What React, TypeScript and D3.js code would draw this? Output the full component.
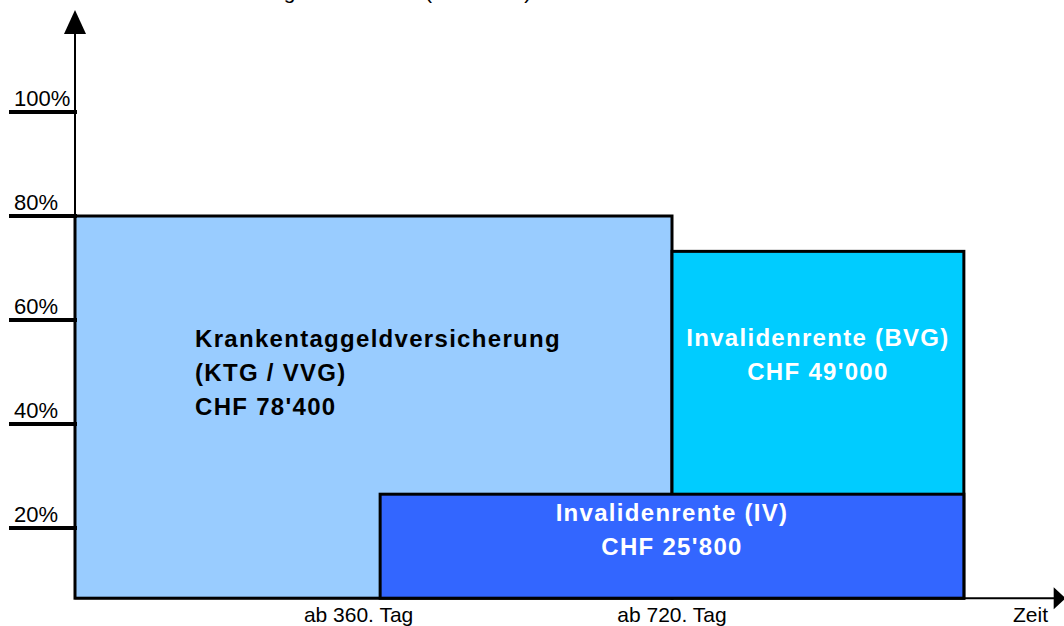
import * as d3 from 'd3'

const title = 'Leistungen in Prozent (vom Lohn)'

// Prozent-Ticks der Y-Achse
const yTicks = [20, 40, 60, 80, 100]
const yFloor = 6.5

// Leistungsbloecke: Beginn / Ende (Tage) und Hoehe (%)
const blockKeys = ['ktg', 'bvg', 'iv']
const blockStart = [0, 720, 368]
const blockEnd = [720, 1072, 1072]
const blockLevel = [80, 73.2, 26.5]
const blockColors = ['#99ccff', '#00ccff', '#3366ff']
const blockText = [
  ['Krankentaggeldversicherung', '(KTG / VVG)', "CHF 78'400"],
  ['Invalidenrente (BVG)', "CHF 49'000"],
  ['Invalidenrente (IV)', "CHF 25'800"],
]

const xTickDays = [342, 720]
const xTickLabels = ['ab 360. Tag', 'ab 720. Tag']
const xAxisEnd = 1190

const W = 1064
const H = 626
const font = '"Liberation Sans", Arial, sans-serif'

export default function App() {
  const x = d3.scaleLinear([0, 720], [75, 672])
  const y = d3.scaleLinear([0, 100], [632, 112])
  const x0 = x(0)
  const yBase = y(yFloor)
  const xEnd = x(xAxisEnd)

  const bold = { fontSize: 24, fontWeight: 'bold' as const, letterSpacing: 1.3 }

  return (
    <svg
      width={W}
      height={H}
      style={{ position: 'absolute', left: 0, top: 0, background: '#fff' }}
      fontFamily={font}
    >
      <text x={216} y={-1} fontSize={21} fill="#000">
        {title}
      </text>

      {/* Bloecke */}
      {blockKeys.map((k, i) => (
        <rect
          key={k}
          x={x(blockStart[i])}
          y={y(blockLevel[i])}
          width={x(blockEnd[i]) - x(blockStart[i])}
          height={yBase - y(blockLevel[i])}
          fill={blockColors[i]}
          stroke="#000"
          strokeWidth={3}
        />
      ))}

      {/* Y-Achse */}
      <line x1={x0} x2={x0} y1={yBase} y2={30} stroke="#000" strokeWidth={2} />
      <path d={`M${x0},10 L${x0 + 11},34 L${x0 - 11},34 Z`} fill="#000" />
      {yTicks.map((t) => (
        <g key={t}>
          <line x1={9} x2={x0 + 2} y1={y(t)} y2={y(t)} stroke="#000" strokeWidth={4} />
          <text x={14} y={y(t) - 6} fontSize={22} fill="#000">
            {t}%
          </text>
        </g>
      ))}

      {/* X-Achse */}
      <line x1={x0} x2={xEnd - 6} y1={yBase} y2={yBase} stroke="#000" strokeWidth={2} />
      <path d={`M${xEnd + 4},${yBase} L${xEnd - 8},${yBase - 11} L${xEnd - 8},${yBase + 11} Z`} fill="#000" />
      {xTickDays.map((d, i) => (
        <text key={d} x={x(d)} y={622} fontSize={21} textAnchor="middle" fill="#000">
          {xTickLabels[i]}
        </text>
      ))}
      <text x={1048} y={622} fontSize={21} textAnchor="end" fill="#000">
        Zeit
      </text>

      {/* Beschriftungen */}
      {blockText[0].map((s, j) => (
        <text key={s} x={x(0) + 120} y={y(blockLevel[0]) + 131 + j * 34} {...bold} fill="#000">
          {s}
        </text>
      ))}
      {blockText[1].map((s, j) => (
        <text
          key={s}
          x={(x(blockStart[1]) + x(blockEnd[1])) / 2}
          y={y(blockLevel[1]) + 95 + j * 34}
          {...bold}
          textAnchor="middle"
          fill="#fff"
        >
          {s}
        </text>
      ))}
      {blockText[2].map((s, j) => (
        <text
          key={s}
          x={(x(blockStart[2]) + x(blockEnd[2])) / 2}
          y={y(blockLevel[2]) + 27 + j * 34}
          {...bold}
          textAnchor="middle"
          fill="#fff"
        >
          {s}
        </text>
      ))}
    </svg>
  )
}
